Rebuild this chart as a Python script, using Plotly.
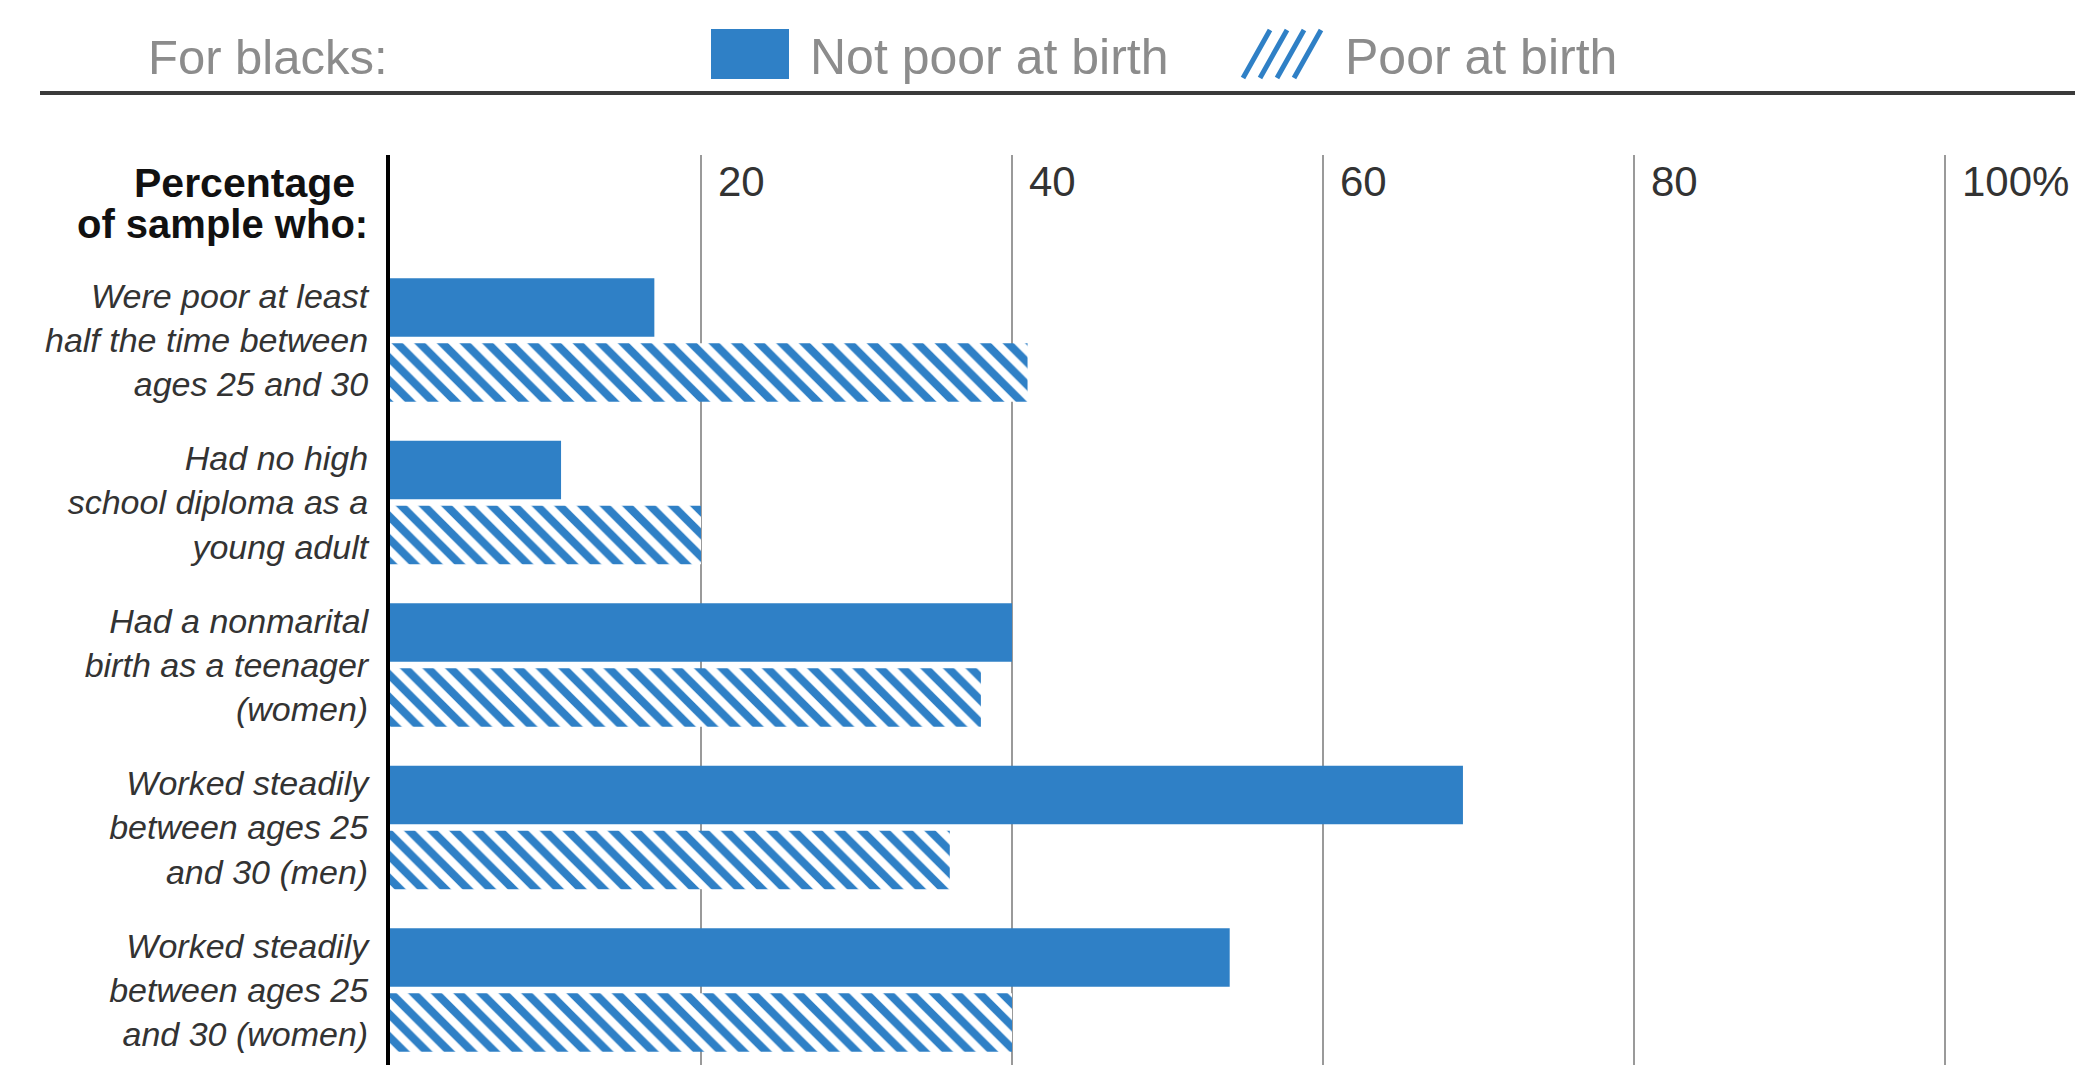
import plotly.graph_objects as go

# ---- data ----
categories = [
    "Were poor at least<br>half the time between<br>ages 25 and 30",
    "Had no high<br>school diploma as a<br>young adult",
    "Had a nonmarital<br>birth as a teenager<br>(women)",
    "Worked steadily<br>between ages 25<br>and 30 (men)",
    "Worked steadily<br>between ages 25<br>and 30 (women)",
]
not_poor_at_birth = [17, 11, 40, 69, 54]
poor_at_birth = [41, 20, 38, 36, 40]
tick_values = [20, 40, 60, 80, 100]
tick_labels = ["20", "40", "60", "80", "100%"]
series_names = ["Not poor at birth", "Poor at birth"]
legend_title = "For blacks:"
header_lines = ["Percentage", "of sample who:"]

# ---- style ----
W, H = 2075, 1065
ML, MT = 390, 155
PW, PH = W - ML, H - MT
BLUE = "#2f80c6"
FONT = "Liberation Sans, Arial, sans-serif"


def px(x):
    return (x - ML) / PW


def py(y):
    return (H - y) / PH


fig = go.Figure()
fig.add_trace(go.Bar(
    y=categories, x=not_poor_at_birth, orientation="h", name=series_names[0],
    marker=dict(color=BLUE, line=dict(width=0)),
))
fig.add_trace(go.Bar(
    y=categories, x=poor_at_birth, orientation="h", name=series_names[1],
    marker=dict(color="white", line=dict(width=0),
                pattern=dict(shape="\\", fgcolor=BLUE, bgcolor="white",
                             fgopacity=1, size=16, solidity=0.5,
                             fillmode="replace")),
))

shapes = [
    # horizontal rule under legend
    dict(type="line", xref="paper", yref="paper", x0=px(40), x1=px(W),
         y0=py(93), y1=py(93), line=dict(color="#3a3a3a", width=4)),
    # solid legend swatch
    dict(type="rect", xref="paper", yref="paper", x0=px(711), x1=px(789),
         y0=py(79), y1=py(29), fillcolor=BLUE, line=dict(width=0)),
]
# hatched legend icon (four slanted strokes)
for xb in [1243, 1260, 1277, 1294]:
    shapes.append(dict(type="line", xref="paper", yref="paper",
                       x0=px(xb), y0=py(78), x1=px(xb + 27), y1=py(30),
                       line=dict(color=BLUE, width=5)))

annotations = [
    dict(text=legend_title, xref="paper", yref="paper", x=px(146), y=py(57),
         xanchor="left", yanchor="middle", showarrow=False,
         font=dict(family=FONT, size=49, color="#8c8c8c")),
    dict(text=series_names[0], xref="paper", yref="paper", x=px(808), y=py(57),
         xanchor="left", yanchor="middle", showarrow=False,
         font=dict(family=FONT, size=50, color="#8c8c8c")),
    dict(text=series_names[1], xref="paper", yref="paper", x=px(1343), y=py(57),
         xanchor="left", yanchor="middle", showarrow=False,
         font=dict(family=FONT, size=50, color="#8c8c8c")),
    dict(text=header_lines[0], xref="paper", yref="paper", x=px(357), y=py(183),
         xanchor="right", yanchor="middle", showarrow=False,
         font=dict(family=FONT, size=41, color="#111", weight="bold")),
    dict(text=header_lines[1], xref="paper", yref="paper", x=px(370), y=py(224),
         xanchor="right", yanchor="middle", showarrow=False,
         font=dict(family=FONT, size=40, color="#111", weight="bold")),
]
# x tick labels placed at their data positions, just right of each gridline
for v, t in zip(tick_values, tick_labels):
    annotations.append(dict(
        text=t, xref="x", yref="paper", x=v, y=py(181),
        xanchor="left", yanchor="middle", xshift=15, showarrow=False,
        font=dict(family=FONT, size=42, color="#333")))

fig.update_layout(
    width=W, height=H,
    margin=dict(l=ML, r=0, t=MT, b=0, pad=0),
    paper_bgcolor="white", plot_bgcolor="white",
    barmode="group", bargap=0.2, bargroupgap=0.1,
    showlegend=False,
    shapes=shapes, annotations=annotations,
    font=dict(family=FONT),
)
fig.update_xaxes(
    range=[0, (W - ML) / (1555 / 100)],
    side="top", tickvals=tick_values, showticklabels=False,
    showgrid=True, gridcolor="#9a9a9a", gridwidth=1.5,
    zeroline=False, showline=False, ticks="",
    fixedrange=True,
)
fig.update_yaxes(
    type="category",
    range=[4.4615, -1.138],
    showline=True, linecolor="black", linewidth=4,
    showgrid=False, zeroline=False, ticks="",
    ticklabelstandoff=11,
    tickfont=dict(family=FONT, size=34, color="#333", style="italic"),
)

fig.write_html("out.html")
